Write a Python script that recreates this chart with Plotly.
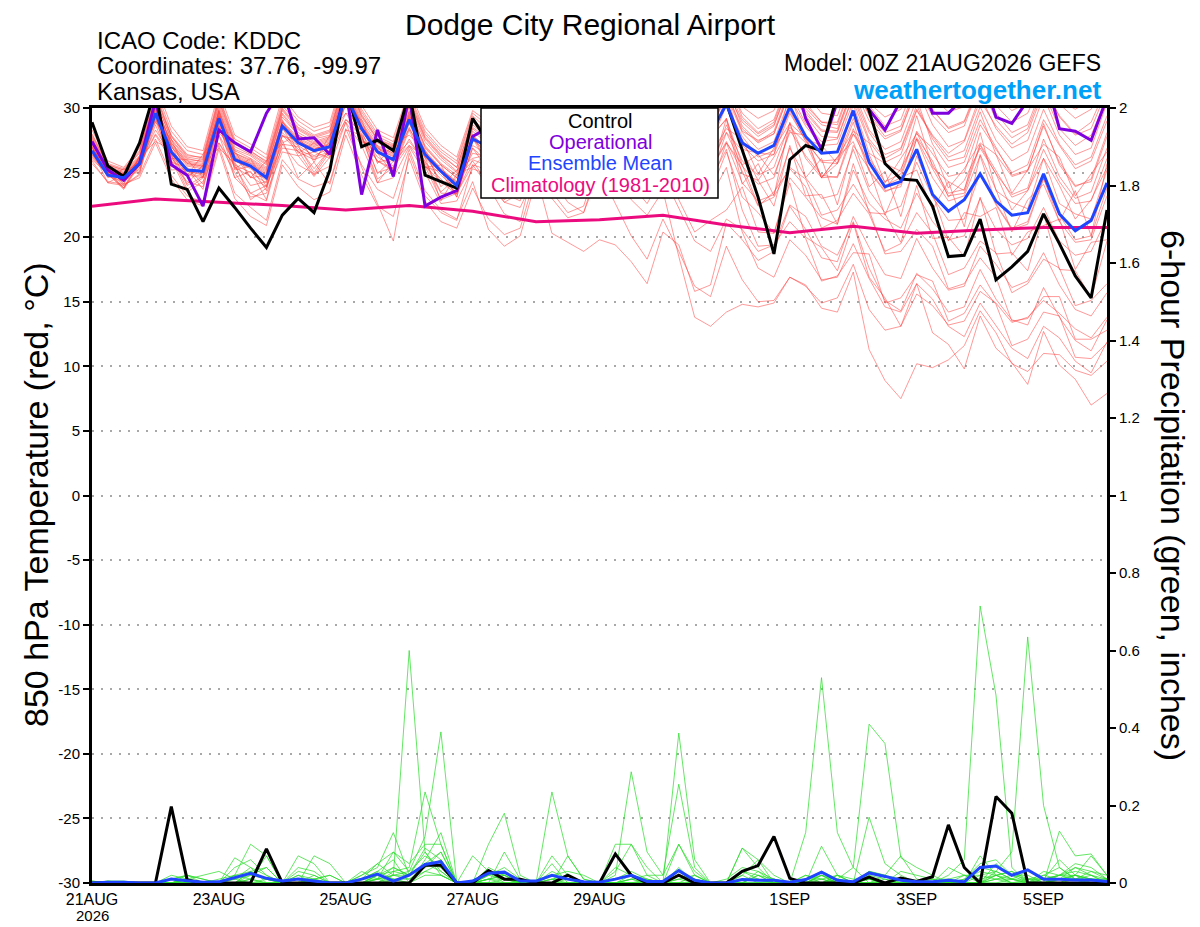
import plotly.graph_objects as go
import pandas as pd

# ---------------- data ----------------
times = pd.date_range("2026-08-21 00:00", periods=65, freq="6h")
clim_times = pd.date_range("2026-08-21 00:00", periods=17, freq="24h")

climatology = [22.4, 22.95, 22.7, 22.45, 22.1, 22.45, 22.0, 21.2, 21.35, 21.7,
               20.95, 20.35, 20.85, 20.3, 20.55, 20.75, 20.75]

control_t = [28.9, 25.5, 24.7, 27.3, 31.5, 24.1, 23.7, 21.2, 23.8, 22.3, 20.7, 19.2, 21.7, 23.0, 21.9, 25.2,
             31.8, 27.0, 27.5, 26.7, 31.2, 24.8, 24.3, 23.8, 29.2, 27.3, 27.4, 26.9, 30.6, 28.9, 28.1, 27.7,
             31.0, 29.4, 28.7, 28.9, 32.0, 30.8, 30.1, 30.5, 30.4, 26.7, 23.1, 18.7, 26.0, 27.1, 26.7, 31.0,
             32.5, 29.8, 25.7, 24.5, 24.4, 22.4, 18.5, 18.6, 21.4, 16.7, 17.7, 18.9, 21.8, 19.5, 17.0, 15.3,
             22.1]

operational_t = [27.4, 25.2, 24.4, 25.7, 30.6, 25.6, 24.8, 22.4, 28.3, 27.3, 26.6, 29.6, 31.5, 27.6, 27.7, 26.4,
                 31.5, 23.3, 28.3, 24.7, 31.0, 22.4, 23.1, 23.6, 27.8, 28.5, 27.9, 27.2, 31.0, 29.1, 28.4, 28.0,
                 31.6, 30.4, 29.8, 30.1, 32.9, 31.2, 30.6, 30.8, 33.0, 31.4, 30.7, 31.1, 33.5, 29.2, 26.8, 30.5,
                 32.8, 29.9, 28.3, 30.6, 32.9, 29.6, 29.6, 30.8, 33.0, 29.3, 28.8, 30.6, 33.1, 28.4, 28.2, 27.5,
                 30.8]

mean_t = [26.7, 24.8, 24.6, 25.7, 29.6, 26.6, 25.2, 25.1, 29.2, 26.0, 25.5, 24.6, 28.6, 27.3, 26.7, 27.0,
          31.0, 28.4, 26.6, 26.0, 29.1, 26.4, 25.1, 24.0, 27.6, 27.0, 26.5, 26.2, 29.0, 27.8, 27.0, 26.8,
          29.4, 28.2, 27.5, 28.0, 30.5, 29.0, 28.3, 28.0, 30.3, 27.3, 26.5, 27.1, 30.1, 27.8, 26.5, 26.6,
          29.8, 25.8, 23.9, 24.3, 26.8, 23.3, 22.0, 22.9, 24.9, 22.8, 21.7, 21.9, 24.9, 21.8, 20.5, 21.3,
          24.2]

m01 = [27.9,25.6,25.2,26.6, 31.2,27.9,26.4,26.1, 30.8,27.4,26.6,25.9, 30.2,28.7,27.9,28.3, 32.6,29.7,27.8,27.2, 30.9,28.0,26.6,25.7, 29.4,
       28.3,27.6,27.4,30.8, 29.3,28.4,28.1,31.2, 29.9,29.0,29.4,32.3, 30.5,29.6,29.2,32.1,
       29.6,28.4,29.1,32.4, 30.2,28.9,28.7,32.1, 30.4,29.3,29.9,32.6, 30.8,29.7,30.1,32.8, 31.0,29.8,30.4,32.9, 30.6,29.9,30.6,32.2]
m02 = [27.2,25.1,24.7,25.9, 30.4,27.1,25.7,25.5, 29.9,26.5,26.0,25.2, 29.5,27.9,27.2,27.6, 31.8,28.9,27.1,26.5, 30.1,27.0,25.6,24.6, 28.5,
       27.6,27.0,26.8,30.1, 28.7,27.6,27.4,30.6, 29.1,28.2,28.7,31.4, 29.9,29.1,28.6,31.3,
       28.2,27.5,28.0,31.2, 28.8,27.4,27.6,30.9, 27.6,26.1,26.8,29.9, 27.9,26.5,27.4,30.6, 28.6,27.2,28.1,31.3, 28.4,27.1,27.9,30.8]
m03 = [26.1,24.9,23.8,26.2, 27.4,26.8,24.1,25.6, 26.9,25.7,22.9,23.8, 27.5,24.6,25.8,24.1, 28.3,27.9,24.2,25.9, 27.1,26.2,22.8,24.9, 25.4,
       26.7,23.1,24.4,27.2, 25.0,26.6,23.7,28.1, 26.2,27.3,25.1,29.4, 27.6,25.2,27.8,29.1,
       24.1,25.7,23.2,28.9, 24.6,26.1,22.5,27.1, 25.3,21.7,24.6,25.2, 22.1,24.3,20.8,26.4, 23.7,20.4,22.9,24.1, 21.2,23.6,20.1,25.7]
m04 = [26.4,24.7,24.3,25.3, 28.7,25.8,24.3,23.9, 27.9,24.6,23.4,22.8, 27.2,25.6,24.9,25.5, 28.9,25.4,22.6,19.7, 26.5,23.2,21.9,21.3, 25.6,
       23.9,21.8,21.2,26.2, 25.1,23.7,23.4,27.6, 26.3,25.1,25.6,29.0, 27.1,25.7,24.9,28.7,
       25.9,24.8,25.4,28.8, 26.1,24.6,24.7,28.4, 25.1,23.5,24.1,27.6, 25.3,23.2,23.4,27.1, 24.9,23.3,23.8,27.6, 24.7,23.0,23.5,26.9]
m05 = [26.9,25.0,24.8,25.8, 29.9,26.8,25.3,25.0, 29.0,25.9,25.3,24.4, 28.4,27.1,26.3,26.9, 30.7,28.0,26.2,25.5, 28.8,26.1,24.8,23.7, 27.1,
       26.4,25.3,25.0,28.6, 27.2,26.3,25.8,29.4, 27.8,26.2,25.7,28.2, 26.1,24.3,23.5,26.6,
       23.1,21.9,20.3,24.2, 20.0,19.2,17.4,21.1, 16.9,15.3,13.1,16.4, 12.6,11.7,9.8,13.9, 11.4,10.3,8.6,12.7, 10.1,9.0,7.0,7.9]
m06 = [26.6,24.9,24.5,25.5, 29.2,26.3,24.9,24.7, 28.7,25.6,25.0,24.2, 28.1,26.8,26.2,26.6, 30.3,27.7,25.9,25.3, 28.5,25.8,24.5,23.4, 26.9,
       25.1,23.4,22.8,26.9, 24.6,22.7,21.9,25.1, 22.6,20.1,18.3,21.4, 18.9,16.2,15.4,19.3,
       16.7,15.0,15.1,16.9, 16.3,14.5,14.2,17.3, 11.3,8.9,7.5,10.2, 9.9,10.5,11.6,14.3, 12.6,10.2,9.6,11.0, 10.9,9.7,9.3,10.4]
m07 = [27.5,25.3,24.9,26.1, 30.1,27.3,25.9,25.7, 29.6,26.4,25.8,25.0, 28.9,27.6,27.0,27.4, 31.4,28.6,26.9,26.2, 29.5,26.7,25.3,24.3, 27.9,
       26.8,25.9,25.4,28.2, 25.9,24.6,24.1,27.0, 24.8,22.9,21.7,23.6, 18.5,13.8,13.1,14.2,
       14.8,14.6,14.9,16.9, 16.2,14.9,15.3,17.9, 14.4,12.8,13.1,15.6, 14.7,13.2,13.5,15.8, 14.9,13.4,13.8,15.1, 14.1,12.9,12.2,13.8]
m08 = [26.3,25.1,24.0,24.9, 29.4,25.2,25.3,23.7, 28.9,24.6,25.1,22.9, 27.9,27.1,25.0,26.8, 29.1,28.3,24.9,26.1, 27.4,25.9,23.5,24.6, 25.9,
       24.1,22.7,22.3,24.9, 20.3,19.6,18.9,19.8, 19.4,18.1,16.4,20.4, 19.4,15.8,16.3,21.1,
       19.8,18.2,18.9,22.4, 20.6,18.4,18.1,21.6, 19.2,17.1,16.8,19.9, 17.6,15.9,16.2,19.3, 17.9,16.1,16.6,18.8, 16.3,14.4,13.9,15.7]
m09 = [27.0,25.0,24.6,25.6, 29.4,26.4,25.1,24.8, 29.3,26.2,25.6,24.7, 28.8,27.5,26.8,27.2, 31.2,28.5,26.7,26.1, 29.3,26.5,25.2,24.1, 27.7,
       26.2,25.4,24.9,28.4, 27.3,26.0,25.5,28.9, 26.4,24.8,23.9,26.8, 22.9,20.4,21.3,22.1,
       23.9,20.4,20.3,24.6, 23.1,21.5,21.0,25.2, 22.6,21.4,20.7,23.4, 21.2,19.8,20.1,23.0, 20.6,19.4,19.9,22.3, 19.7,18.6,18.9,21.5]
m10 = [27.3,25.2,24.9,25.9, 30.0,27.0,25.6,25.4, 29.4,26.1,25.7,24.9, 28.7,27.4,26.9,27.1, 31.1,28.5,26.8,26.3, 29.2,26.5,25.2,24.2, 27.8,
       26.9,26.1,25.7,29.2, 27.9,26.8,26.4,29.7, 28.1,26.9,26.5,29.4, 27.0,25.3,24.4,26.8,
       22.1,19.3,19.4,21.2, 19.9,16.6,17.0,18.8, 18.7,14.9,15.3,17.1, 16.6,13.5,14.1,16.3, 14.8,11.6,12.1,14.2, 13.9,10.7,10.6,11.8]
m11 = [27.6,25.4,25.0,26.2, 30.6,27.6,26.1,25.8, 30.3,27.0,26.4,25.6, 29.8,28.3,27.6,27.9, 32.2,29.3,27.5,26.9, 30.4,27.6,26.2,25.1, 28.9,
       27.9,27.1,26.6,29.6, 28.0,26.8,26.3,29.2, 28.4,27.3,27.6,30.4, 28.8,27.7,27.2,30.2,
       27.8,26.2,26.7,29.8, 27.4,25.9,26.0,29.2, 26.1,24.3,24.9,28.1, 25.6,23.4,23.7,27.2, 25.1,23.1,23.6,26.8, 24.3,22.6,22.8,26.1]
m12 = [26.8,25.4,24.1,26.3, 28.9,27.6,24.8,26.4, 28.1,26.7,24.6,25.9, 27.3,27.9,25.8,27.9, 29.6,29.1,25.7,27.2, 27.9,26.8,23.9,25.2, 26.1,
       26.4,24.1,25.2,26.9, 27.5,25.1,26.3,27.8, 28.0,25.6,27.4,29.1, 28.7,26.4,27.6,29.2,
       25.6,26.4,24.8,28.1, 27.9,24.6,26.2,27.4, 23.9,25.1,21.6,26.3, 23.4,19.7,21.9,21.6, 22.3,18.6,20.4,20.9, 21.4,17.5,19.6,19.8]
m13 = [28.3,25.9,25.4,26.9, 31.9,28.6,27.0,26.7, 31.3,27.9,27.2,26.4, 30.9,29.3,28.5,28.9, 33.1,30.2,28.3,27.7, 31.4,28.5,27.1,26.2, 29.8,
       28.9,28.3,28.0,31.6, 30.2,29.3,29.0,32.4, 30.9,29.8,30.2,33.1, 31.2,30.1,29.7,32.7,
       30.1,29.2,29.8,33.0, 31.1,29.6,29.4,32.8, 30.2,28.6,29.1,32.3, 29.9,28.4,28.9,31.8, 29.6,28.1,28.7,31.9, 29.3,27.9,28.4,31.4]
m14 = [26.5,24.8,24.6,25.4, 29.0,26.1,24.8,24.6, 28.6,25.4,24.7,23.9, 27.9,26.6,26.0,26.5, 30.4,27.6,25.9,25.1, 28.3,25.5,24.3,23.3, 26.9,
       25.8,24.9,24.6,28.1, 27.0,26.2,25.8,29.3, 28.2,27.4,27.8,31.0, 29.4,28.5,28.0,31.4,
       28.9,27.8,28.6,31.9, 29.6,28.2,28.1,31.4, 28.3,26.8,27.4,30.7, 27.2,25.4,25.8,29.1, 26.9,24.8,25.2,28.6, 25.8,24.0,24.3,27.8]
m15 = [27.1,24.6,25.3,25.1, 30.2,26.1,26.0,24.6, 29.8,25.3,26.1,23.9, 29.1,26.5,27.3,26.2, 31.6,27.4,27.1,25.1, 29.6,25.4,25.6,23.1, 28.0,
       25.4,26.0,23.9,28.8, 26.1,26.6,24.6,29.5, 26.5,26.7,25.3,29.8, 26.7,27.0,24.8,29.2,
       24.9,24.4,22.4,27.1, 23.2,23.3,21.0,25.7, 21.9,21.8,19.6,24.0, 19.9,20.0,18.5,23.1, 18.7,18.8,17.4,21.8, 17.5,17.4,15.3,19.7]
m16 = [27.7,25.5,25.1,26.3, 30.9,27.8,26.2,26.0, 30.5,27.2,26.5,25.7, 29.9,28.4,27.7,28.1, 32.4,29.5,27.6,27.1, 30.7,27.8,26.4,25.4, 29.1,
       28.1,27.4,27.0,30.2, 28.9,27.8,27.5,30.9, 29.6,28.7,29.1,32.0, 30.2,29.3,28.8,31.7,
       29.1,28.0,28.7,31.9, 30.0,28.7,28.4,31.6, 29.5,28.1,28.6,31.8, 29.8,28.5,29.0,32.1, 30.2,28.9,29.6,32.4, 30.3,29.2,29.9,32.0]
m17 = [26.2,25.0,23.8,25.7, 28.0,26.3,23.7,24.6, 27.3,25.5,23.4,24.0, 26.9,26.7,24.8,26.6, 29.1,27.8,24.5,25.4, 27.1,25.5,22.9,23.4, 25.6,
       25.2,22.9,23.9,26.1, 26.0,23.8,24.8,26.7, 26.8,24.5,26.2,27.9, 28.0,25.6,26.4,28.4,
       27.6,24.9,26.9,28.8, 27.7,24.6,26.2,28.2, 27.3,24.2,26.1,28.0, 26.9,23.8,25.3,27.3, 26.4,23.4,25.2,27.2, 26.2,23.2,24.9,26.6]
m18 = [27.4,25.3,24.9,26.0, 30.2,27.2,25.7,25.5, 29.7,26.5,25.9,25.1, 29.0,27.7,27.1,27.5, 31.5,28.7,26.9,26.4, 29.7,26.9,25.6,24.6, 28.2,
       27.2,26.4,26.1,29.6, 28.3,27.2,26.8,30.1, 28.6,27.4,27.0,29.3, 26.6,24.6,23.1,25.4,
       20.4,17.6,16.9,19.8, 18.6,16.7,16.9,19.5, 16.8,14.6,14.2,16.4, 15.2,13.1,12.3,14.9, 13.2,11.4,10.6,13.1, 12.2,10.4,9.5,11.9]
m19 = [26.7,24.2,24.9,25.0, 29.8,25.8,25.4,24.1, 29.4,25.2,25.5,23.6, 28.5,26.3,26.6,26.1, 31.1,27.4,26.5,24.9, 29.2,25.4,25.1,23.1, 27.7,
       25.4,25.5,24.1,28.6, 26.4,26.4,25.0,29.3, 27.0,27.0,26.4,30.7, 28.1,28.2,26.7,31.2,
       26.8,26.5,26.4,31.1, 27.6,27.1,25.7,30.3, 26.5,25.7,25.1,29.4, 25.4,24.3,23.6,28.1, 23.6,22.7,22.2,26.1, 22.6,21.8,21.4,25.2]
m20 = [27.0,25.0,24.7,25.7, 29.5,26.5,25.1,24.9, 29.1,25.9,25.4,24.6, 28.6,27.3,26.6,27.0, 31.0,28.3,26.5,25.9, 29.0,26.2,25.0,23.9, 27.5,
       26.6,25.7,25.3,28.9, 27.7,26.7,26.2,29.5, 28.0,27.0,27.3,30.3, 28.9,27.9,27.5,30.5,
       27.1,25.9,26.4,29.6, 27.5,25.8,25.7,28.9, 25.2,23.6,23.9,27.6, 24.6,22.8,23.2,26.3, 22.6,20.7,21.2,24.6, 21.2,19.6,19.8,23.2]
m21 = [28.0,25.7,25.3,26.7, 31.5,28.2,26.7,26.4, 30.9,27.6,26.9,26.1, 30.5,29.0,28.2,28.6, 32.8,29.9,28.0,27.4, 31.1,28.2,26.8,25.9, 29.6,
       28.6,27.9,27.7,31.3, 29.8,28.9,28.6,31.8, 30.4,29.4,29.8,32.8, 30.9,29.9,29.5,32.5,
       29.3,28.1,28.9,32.2, 30.4,28.9,28.9,32.3, 29.4,27.8,28.3,31.6, 28.7,27.0,27.5,31.0, 28.4,26.9,27.5,30.9, 27.9,26.4,26.9,30.4]
m22 = [26.4,25.1,23.8,25.8, 28.3,26.4,24.0,24.7, 27.9,25.8,24.0,24.3, 27.2,27.0,25.3,26.8, 29.6,27.9,25.0,25.4, 27.6,25.7,23.4,23.4, 26.0,
       25.5,23.6,24.3,26.7, 26.5,24.6,25.1,27.4, 27.0,24.9,26.1,28.3, 27.4,25.0,25.3,27.4,
       25.1,22.4,23.5,25.3, 23.9,20.7,21.3,23.4, 21.8,18.9,19.5,21.9, 20.3,17.1,17.6,19.7, 18.8,15.7,16.4,18.3, 17.6,14.7,15.1,16.4]
m23 = [27.5,25.4,25.0,26.2, 30.7,27.5,26.0,25.9, 30.1,26.8,26.3,25.4, 29.6,28.1,27.4,27.8, 32.0,29.1,27.3,26.7, 30.2,27.4,26.0,25.0, 28.7,
       27.7,27.0,26.7,30.4, 28.8,27.9,27.6,31.1, 29.5,28.5,28.9,32.0, 30.1,29.2,28.8,31.8,
       28.6,27.4,28.2,31.5, 29.8,28.3,28.2,31.7, 29.0,27.6,28.2,31.5, 29.4,28.1,28.6,31.9, 29.1,27.7,28.4,31.6, 29.4,28.0,28.9,31.7]
m24 = [25.9,24.2,24.0,24.8, 27.6,24.8,23.2,22.7, 27.1,23.4,22.3,21.3, 26.0,24.5,23.9,24.3, 28.4,25.6,23.7,23.0, 26.8,23.6,22.1,21.4, 24.3,
       20.6,19.3,20.1,24.4, 23.0,21.5,21.9,25.8, 24.5,23.4,23.6,27.1, 25.7,24.4,23.9,27.3,
       24.2,22.8,23.3,26.9, 24.6,23.0,23.3,26.8, 23.6,21.9,22.4,25.8, 23.1,21.3,21.4,25.0, 22.5,20.6,21.0,24.5, 21.7,19.8,20.1,23.8]
m25 = [25.7,24.3,24.1,24.6, 27.3,24.5,22.9,22.4, 26.8,23.0,21.6,20.9, 25.6,23.9,22.9,23.5, 27.9,24.8,22.4,21.6, 26.1,22.8,21.2,20.7, 23.8,
       21.4,20.2,20.7,24.9, 23.5,21.9,22.4,26.2, 25.1,23.8,24.1,27.7, 26.2,25.0,24.6,28.1,
       25.5,24.1,24.6,28.3, 26.3,24.8,24.6,28.0, 25.7,24.0,24.6,28.2, 26.4,24.7,25.0,28.7, 26.8,25.0,25.6,29.1, 27.1,25.3,25.9,29.0]
m26 = [27.3,25.2,24.8,26.0, 30.3,27.3,25.8,25.6, 29.8,26.7,26.1,25.3, 29.3,27.9,27.3,27.7, 31.6,28.8,27.0,26.5, 29.8,27.1,25.7,24.8, 28.4,
       27.3,26.5,26.2,29.8, 28.5,27.5,27.1,30.4, 29.0,28.0,28.3,31.5, 29.7,28.8,28.3,31.2,
       28.4,27.3,28.0,31.3, 29.4,27.8,27.7,31.0, 28.1,26.4,26.9,30.2, 27.6,25.9,26.2,29.7, 26.4,24.7,25.1,28.8, 25.6,23.9,24.5,28.1]
m27 = [26.9,25.4,24.1,26.2, 29.1,27.1,24.7,25.5, 28.5,26.3,24.6,24.8, 27.8,27.6,26.0,27.4, 30.3,28.6,25.8,26.1, 28.4,26.5,24.2,24.2, 26.5,
       26.2,24.3,24.9,27.3, 27.0,25.0,25.6,27.8, 27.4,25.1,26.1,28.1, 27.4,24.9,25.2,27.3,
       25.6,22.5,23.1,25.4, 24.5,21.7,22.1,24.1, 22.1,18.7,18.9,20.6, 19.3,16.0,16.4,18.4, 16.9,13.5,13.7,15.4, 15.4,12.1,12.1,12.8]
m28 = [27.8,25.6,25.2,26.5, 31.0,27.8,26.3,26.2, 30.6,27.3,26.7,25.8, 30.0,28.5,27.8,28.2, 32.3,29.4,27.6,27.0, 30.6,27.7,26.3,25.4, 29.0,
       28.0,27.3,27.0,30.5, 29.1,28.1,27.8,31.3, 29.7,28.6,28.9,31.8, 29.8,28.7,28.2,31.0,
       28.1,26.8,27.4,30.8, 28.6,27.1,27.2,30.5, 27.4,25.8,26.4,29.8, 27.8,26.2,26.7,30.1, 27.5,25.9,26.6,29.9, 27.2,25.6,26.2,29.4]
m29 = [26.0,24.9,23.7,25.6, 27.9,26.0,23.5,24.3, 27.3,25.0,23.1,23.4, 26.6,26.3,24.7,26.2, 28.9,27.1,24.2,24.6, 27.0,25.0,22.6,22.8, 25.3,
       24.8,22.7,23.4,26.0, 25.8,23.7,24.3,26.8, 26.4,24.3,25.6,27.9, 27.5,25.4,25.9,28.1,
       26.7,24.4,26.2,28.5, 27.3,24.6,25.7,28.0, 26.4,23.7,25.3,27.7, 25.9,23.1,24.4,26.9, 24.9,22.1,23.6,26.1, 24.0,21.4,22.9,25.4]
m30 = [27.2,25.1,24.8,25.9, 30.0,27.0,25.5,25.3, 29.5,26.3,25.7,24.8, 28.9,27.5,26.8,27.3, 31.3,28.6,26.7,26.0, 29.4,26.6,25.3,24.2, 27.8,
       26.7,25.8,25.5,28.9, 27.5,26.4,25.8,28.4, 25.9,24.1,22.6,24.8, 22.2,19.7,18.9,21.4,
       20.6,18.9,19.4,22.5, 21.6,19.3,18.6,21.2, 17.6,15.1,14.3,17.2, 16.0,14.2,14.6,17.5, 15.2,13.6,13.2,16.1, 13.8,12.0,11.2,13.6]

temp_members = [m01, m02, m03, m04, m05, m06, m07, m08, m09, m10, m11, m12, m13, m14, m15,
                m16, m17, m18, m19, m20, m21, m22, m23, m24, m25, m26, m27, m28, m29, m30]

control_p = [0,0,0,0, 0,0.197,0.008,0, 0,0,0,0.088, 0,0,0,0, 0,0,0,0, 0,0.046,0.046,0,
             0,0.032,0.01,0.01, 0,0,0.02,0, 0,0.075,0.02,0, 0,0.02,0,0, 0,0.03,0.045,0.12,
             0.012,0,0,0, 0,0.015,0,0.013, 0.004,0.016,0.15,0.04, 0,0.223,0.18,0, 0,0,0,0, 0]
mean_p = [0,0.002,0.002,0, 0,0.01,0.006,0.002, 0.003,0.015,0.025,0.012, 0.005,0.01,0.005,0,
          0,0.01,0.023,0.005, 0.02,0.048,0.055,0, 0.005,0.025,0.028,0.005, 0.005,0.02,0.01,0.003,
          0.002,0.01,0.02,0.004, 0.004,0.032,0.007,0, 0,0.009,0.007,0.007, 0.002,0.009,0.028,0.007,
          0.003,0.026,0.017,0.007, 0.003,0.003,0.007,0.003, 0.04,0.044,0.02,0.034, 0.01,0.01,0.008,0.008,
          0.004]

p01 = [0,0,0,0, 0,0.01,0.02,0, 0,0,0.03,0.01, 0,0,0,0, 0,0,0.01,0.02, 0.6,0.08,0.03,0, 0,0.01,0.02,0, 0,0,0,0,
       0,0,0.01,0, 0,0.02,0.01,0, 0,0,0,0, 0,0.13,0.53,0.13, 0.04,0,0,0, 0,0,0.01,0, 0,0.02,0.03,0, 0,0.01,0.02,0.01, 0]
p02 = [0,0,0,0, 0,0,0.01,0.02, 0.03,0.01,0,0, 0,0.02,0,0, 0,0.02,0.05,0.08, 0.03,0.12,0.39,0, 0,0,0,0, 0,0.02,0.01,0,
       0,0,0,0.01, 0,0,0,0, 0,0.03,0.01,0, 0,0,0.02,0.01, 0,0,0,0.01, 0,0,0.02,0.06, 0.715,0.485,0.04,0, 0,0,0,0.01, 0]
p03 = [0,0.005,0,0, 0,0,0.01,0, 0,0.04,0.06,0.02, 0,0,0,0, 0,0,0.02,0.03, 0.04,0.235,0.1,0, 0,0,0,0, 0,0,0,0,
       0,0,0.01,0.02, 0,0,0,0, 0,0,0.02,0, 0,0,0,0.01, 0.04,0.41,0.36,0.065, 0.04,0.02,0,0, 0,0,0.01,0, 0.02,0.04,0.01,0.01, 0.005]
p04 = [0,0,0,0, 0,0,0,0, 0,0,0.02,0.04, 0,0.07,0.05,0, 0,0.01,0.03,0.01, 0,0.05,0.08,0, 0,0.02,0.01,0, 0,0.235,0.07,0.01,
       0,0,0,0, 0,0,0,0, 0,0.02,0,0, 0,0,0,0.02, 0,0,0.01,0, 0,0,0,0.02, 0.02,0.03,0.08,0.635, 0.2,0.04,0.01,0, 0]
p05 = [0.005,0,0,0, 0,0,0,0, 0,0,0,0, 0,0,0.01,0.02, 0,0.02,0.04,0.13, 0.02,0.05,0.04,0, 0,0.03,0.02,0, 0,0,0,0,
       0,0.02,0.287,0.08, 0.02,0.1,0.03,0, 0,0,0,0, 0,0,0.02,0, 0,0,0,0, 0,0,0,0.01, 0.05,0.06,0.02,0.01, 0.01,0.02,0.04,0.02, 0.01]
p06 = [0,0,0,0, 0,0.02,0.01,0, 0,0,0.01,0.07, 0,0,0,0, 0,0,0,0.02, 0.02,0.09,0.06,0, 0,0.1,0.18,0.02, 0,0,0.02,0,
       0,0,0,0, 0,0.387,0.06,0, 0,0.09,0.06,0.02, 0,0,0,0.02, 0,0.17,0.05,0.02, 0,0,0,0, 0,0,0,0, 0,0,0.02,0.07, 0.02]
p07 = [0,0,0,0, 0,0,0,0, 0,0.02,0.1,0.07, 0,0.01,0,0, 0,0.01,0.03,0.06, 0,0.06,0.13,0, 0,0,0.08,0.01, 0,0.07,0.02,0,
       0,0.1,0.1,0.02, 0.02,0.255,0.04,0, 0,0,0,0.01, 0,0,0.095,0.02, 0,0,0.02,0.07, 0.01,0,0,0, 0.07,0.02,0,0, 0,0.134,0.07,0.075, 0.02]
p08 = [0,0.005,0.005,0, 0,0,0.02,0.01, 0,0.065,0.04,0.02, 0,0.04,0.03,0, 0,0,0.01,0.08, 0.05,0.1,0.1,0, 0.07,0.03,0,0, 0,0,0.07,0.01,
       0,0,0,0, 0,0.02,0,0, 0,0.09,0.04,0, 0,0.02,0,0, 0,0,0,0.03, 0.02,0.01,0,0, 0,0.03,0.01,0.03, 0.01,0.02,0.02,0.01, 0]
p09 = [0,0,0,0, 0,0.01,0,0, 0,0,0.03,0.04, 0,0,0.07,0.05, 0,0.03,0.01,0.04, 0.02,0.08,0.02,0, 0,0.02,0.03,0, 0,0.05,0,0,
       0,0.03,0.1,0.04, 0,0.03,0.01,0, 0,0.02,0.06,0, 0,0.02,0.01,0, 0,0,0,0, 0,0,0.04,0.02, 0,0.05,0.02,0, 0.03,0.02,0.05,0.04, 0.01]
p10 = [0,0,0,0, 0,0,0,0, 0,0.02,0.01,0, 0,0,0.01,0.02, 0,0.01,0.05,0.02, 0.01,0.04,0.08,0, 0,0.01,0.02,0, 0,0.02,0.03,0.02,
       0,0,0,0, 0,0.1,0.02,0, 0,0.01,0.01,0, 0,0.01,0.03,0.01, 0,0.03,0.02,0.01, 0,0,0,0, 0.04,0.03,0.01,0, 0.01,0,0.01,0.03, 0.01]
p11 = [0,0,0,0, 0,0,0.01,0, 0.01,0.02,0.03,0.01, 0,0,0.02,0, 0,0,0.02,0.01, 0.01,0.03,0.05,0, 0,0.04,0.02,0, 0,0.03,0.01,0,
       0,0.04,0.02,0, 0,0,0,0, 0.01,0.04,0.03,0, 0,0,0.01,0.02, 0.01,0.01,0,0, 0,0,0,0, 0.02,0.01,0.02,0.02, 0,0.02,0.03,0.02, 0]
p12 = [0,0,0,0, 0,0,0,0, 0,0.01,0.04,0, 0,0.03,0.02,0, 0,0,0,0.03, 0.02,0.05,0.03,0, 0,0,0.01,0, 0,0.01,0.02,0,
       0,0.01,0.03,0.01, 0,0.02,0.01,0, 0,0.03,0.02,0.01, 0,0,0.02,0, 0,0.02,0.01,0, 0,0.01,0.01,0.02, 0.01,0.02,0.03,0.01, 0.02,0.01,0.04,0.03, 0.02]
p13 = [0,0,0,0, 0,0,0,0, 0,0,0,0.01, 0,0,0,0, 0,0.01,0.01,0.02, 0.03,0.07,0.04,0, 0,0.01,0,0, 0,0.01,0,0,
       0,0,0.02,0.01, 0,0.04,0,0, 0,0,0,0, 0,0.01,0.02,0, 0,0.03,0.02,0, 0,0,0,0, 0,0.01,0,0, 0.01,0.06,0.02,0.01, 0.01]
p14 = [0,0,0,0, 0,0.01,0.02,0.01, 0,0,0,0, 0,0.01,0.01,0, 0,0,0.01,0, 0,0.02,0.02,0, 0,0.02,0.04,0.01, 0,0.01,0.01,0,
       0,0.01,0.02,0, 0,0.01,0.02,0, 0,0,0.03,0.01, 0,0.01,0.01,0, 0,0.01,0,0, 0,0.01,0,0, 0,0.02,0.01,0.01, 0,0.01,0.01,0.02, 0]
p15 = [0,0,0,0, 0,0,0,0, 0,0,0.01,0, 0,0,0,0, 0,0,0.02,0.04, 0.02,0.04,0.06,0, 0,0,0,0, 0,0,0.01,0,
       0,0,0.01,0, 0,0,0.02,0, 0,0,0.02,0, 0,0.01,0,0, 0,0.01,0,0, 0,0,0,0.01, 0.03,0.02,0,0.01, 0.01,0.02,0.01,0.01, 0.01]
p16 = [0.005,0,0,0, 0,0,0.01,0, 0,0.01,0.02,0.01, 0,0.02,0.01,0, 0,0,0,0.01, 0,0.03,0.02,0, 0,0.01,0.01,0, 0,0,0,0,
       0,0,0,0, 0,0.01,0,0, 0,0.01,0.01,0, 0,0,0,0.01, 0,0,0,0.01, 0,0,0,0, 0,0.01,0.01,0, 0,0.01,0.02,0, 0]

precip_members = [p01, p02, p03, p04, p05, p06, p07, p08, p09, p10, p11, p12, p13, p14, p15, p16]

left_ticks = [-30, -25, -20, -15, -10, -5, 0, 5, 10, 15, 20, 25, 30]
left_labels = ["-30", "-25", "-20", "-15", "-10", "-5", "0", "5", "10", "15", "20", "25", "30"]
right_ticks = [0, 0.2, 0.4, 0.6, 0.8, 1.0, 1.2, 1.4, 1.6, 1.8, 2.0]
right_labels = ["0", "0.2", "0.4", "0.6", "0.8", "1", "1.2", "1.4", "1.6", "1.8", "2"]
x_tick_dates = ["2026-08-21", "2026-08-23", "2026-08-25", "2026-08-27", "2026-08-29",
                "2026-09-01", "2026-09-03", "2026-09-05"]
x_tick_labels = ["21AUG", "23AUG", "25AUG", "27AUG", "29AUG", "1SEP", "3SEP", "5SEP"]
year_label = "2026"

for s in temp_members + precip_members + [control_t, operational_t, mean_t, control_p, mean_p]:
    assert len(s) == 65, len(s)

# ---------------- figure ----------------
FONT = "Liberation Sans, Arial, Helvetica, sans-serif"
RED = "rgba(255,60,60,0.75)"
GREEN = "rgba(40,220,40,0.9)"
BLACK = "#000000"
PURPLE = "#7f00dd"
BLUE = "#1f45ff"
MAGENTA = "#ec0a7f"

fig = go.Figure()

for m in temp_members:
    fig.add_trace(go.Scatter(x=times, y=m, mode="lines", line=dict(color=RED, width=0.7),
                             showlegend=False, hoverinfo="skip"))
for p in precip_members:
    fig.add_trace(go.Scatter(x=times, y=p, mode="lines", yaxis="y2", line=dict(color=GREEN, width=0.8),
                             showlegend=False, hoverinfo="skip"))

fig.add_trace(go.Scatter(x=clim_times, y=climatology, mode="lines", line=dict(color=MAGENTA, width=3),
                         showlegend=False))
fig.add_trace(go.Scatter(x=times, y=control_p, mode="lines", yaxis="y2", line=dict(color=BLACK, width=3),
                         showlegend=False))
fig.add_trace(go.Scatter(x=times, y=mean_p, mode="lines", yaxis="y2", line=dict(color=BLUE, width=3),
                         showlegend=False))
fig.add_trace(go.Scatter(x=times, y=operational_t, mode="lines", line=dict(color=PURPLE, width=3),
                         showlegend=False))
fig.add_trace(go.Scatter(x=times, y=control_t, mode="lines", line=dict(color=BLACK, width=3),
                         showlegend=False))
fig.add_trace(go.Scatter(x=times, y=mean_t, mode="lines", line=dict(color=BLUE, width=3),
                         showlegend=False))

# page has an 8px body margin: figure origin sits at (8, 8) of the window
W, H = 1192, 919
L, T = 84, 100
R = W - 1099
B = H - 875
PW, PH = 1015, 775


def px(xp):  # reference window x -> paper x
    return (xp - 92) / PW


def py(yp):  # reference window y -> paper y
    return (883 - yp) / PH


ann = []
ann.append(dict(text="Dodge City Regional Airport", x=px(590), y=py(25), xref="paper", yref="paper",
                showarrow=False, xanchor="center", yanchor="middle", font=dict(size=30, color="black", family=FONT)))
for txt, yy in [("ICAO Code: KDDC", 40), ("Coordinates: 37.76, -99.97", 66), ("Kansas, USA", 92)]:
    ann.append(dict(text=txt, x=px(95), y=py(yy), xref="paper", yref="paper", showarrow=False,
                    xanchor="left", yanchor="middle", font=dict(size=24, color="black", family=FONT)))
ann.append(dict(text="Model: 00Z 21AUG2026 GEFS", x=px(1103), y=py(63), xref="paper", yref="paper",
                showarrow=False, xanchor="right", yanchor="middle", font=dict(size=23, color="black", family=FONT)))
ann.append(dict(text="<b>weathertogether.net</b>", x=px(1103), y=py(90), xref="paper", yref="paper",
                showarrow=False, xanchor="right", yanchor="middle", font=dict(size=26, color="#00a0f8", family=FONT)))
for txt, col, yy in [("Control", BLACK, 121), ("Operational", PURPLE, 142),
                     ("Ensemble Mean", BLUE, 163), ("Climatology (1981-2010)", MAGENTA, 185)]:
    ann.append(dict(text=txt, x=px(600), y=py(yy), xref="paper", yref="paper", showarrow=False,
                    xanchor="center", yanchor="middle", font=dict(size=20, color=col, family=FONT)))
ann.append(dict(text="850 hPa Temperature (red, °C)", x=px(36), y=py(495), xref="paper", yref="paper",
                showarrow=False, textangle=-90, xanchor="center", yanchor="middle",
                font=dict(size=34, color="black", family=FONT)))
ann.append(dict(text="6-hour Precipitation (green, inches)", x=px(1173), y=py(495), xref="paper", yref="paper",
                showarrow=False, textangle=90, xanchor="center", yanchor="middle",
                font=dict(size=34, color="black", family=FONT)))
ann.append(dict(text=year_label, x=times[0], y=py(916), xref="x", yref="paper", showarrow=False,
                xanchor="center", yanchor="middle", font=dict(size=15, color="black", family=FONT)))

shapes = [dict(type="rect", xref="paper", yref="paper", x0=px(481), x1=px(718), y0=py(198), y1=1.0,
               fillcolor="white", line=dict(color="black", width=1.5), layer="above")]

fig.update_layout(
    width=W, height=H,
    margin=dict(l=L, r=R, t=T, b=B, autoexpand=False),
    paper_bgcolor="white", plot_bgcolor="white",
    font=dict(family=FONT, color="black"),
    showlegend=False,
    annotations=ann,
    shapes=shapes,
    xaxis=dict(type="date", range=[times[0], times[-1]], tickvals=pd.to_datetime(x_tick_dates),
               ticktext=x_tick_labels, showgrid=False, zeroline=False, showline=True, linecolor="black",
               linewidth=3, mirror=True, ticks="", tickfont=dict(size=16, family=FONT)),
    yaxis=dict(range=[-30, 30], tickvals=left_ticks, ticktext=left_labels, showgrid=True, gridcolor="#a8a8a8",
               griddash="2px,7px", gridwidth=2, zeroline=False, showline=True, linecolor="black", linewidth=3,
               mirror=True, ticks="outside", ticklen=6, tickwidth=2, tickcolor="black",
               tickfont=dict(size=15, family=FONT)),
    yaxis2=dict(range=[0, 2], overlaying="y", side="right", tickvals=right_ticks, ticktext=right_labels,
                showgrid=False, zeroline=False, showline=True, linecolor="black", linewidth=3,
                ticks="outside", ticklen=6, tickwidth=2, tickcolor="black", tickfont=dict(size=15, family=FONT)),
)

fig.write_html("out.html")
